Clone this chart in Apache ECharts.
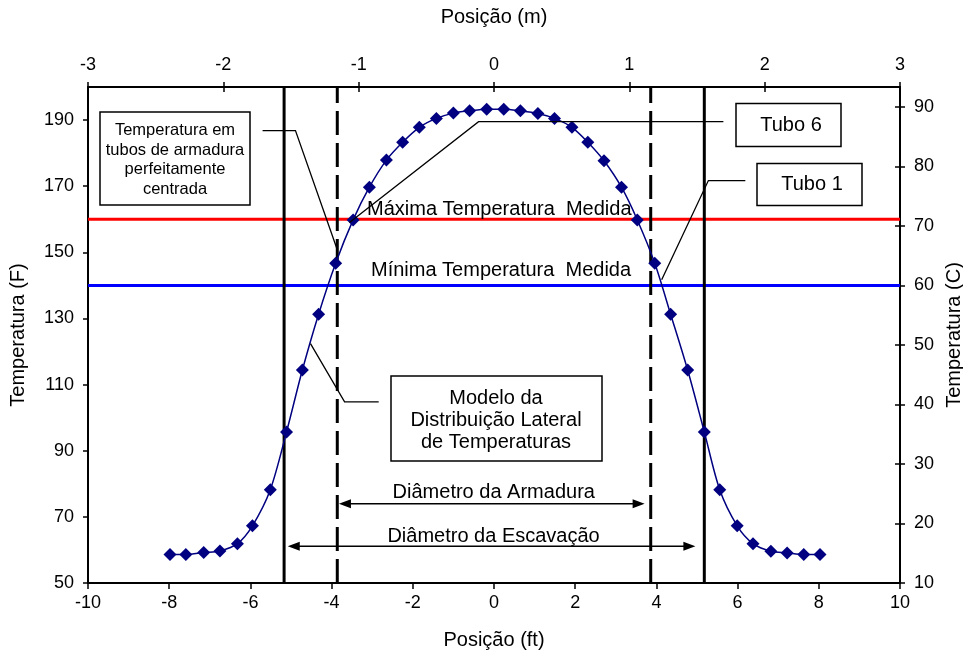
<!DOCTYPE html>
<html>
<head>
<meta charset="utf-8">
<script src="https://cdn.jsdelivr.net/npm/echarts@6/dist/echarts.min.js"></script>
<style>
  html, body { margin: 0; padding: 0; background: #ffffff; }
  #chart { width: 963px; height: 652px; }
</style>
</head>
<body>
<div id="chart"></div>
<script>
// Lateral temperature profile across the shaft (position in ft, temperature in F)
const positionFt = [
  -7.98, -7.59, -7.15, -6.75, -6.32, -5.95, -5.51, -5.11, -4.72, -4.32,
  -3.90, -3.47, -3.07, -2.65, -2.25, -1.84, -1.42, -1.00, -0.60, -0.18,
   0.24,  0.65,  1.08,  1.49,  1.92,  2.31,  2.71,  3.14,  3.53,  3.96,
   4.35,  4.77,  5.18,  5.56,  5.99,  6.38,  6.82,  7.22,  7.63,  8.03
];
const temperatureF = [
   58.6,  58.6,  59.2,  59.7,  61.9,  67.3,  78.2,  95.7, 114.4, 131.3,
  146.7, 159.8, 169.7, 177.9, 183.3, 187.8, 190.5, 192.1, 192.8, 193.3,
  193.3, 192.8, 192.0, 190.5, 187.8, 183.3, 177.7, 169.7, 159.8, 146.7,
  131.3, 114.4,  95.7,  78.2,  67.3,  61.9,  59.6,  59.1,  58.6,  58.6
];

// Measured extremes (F)
const maxMeasuredF = 160;
const minMeasuredF = 140;

// Excavation and reinforcement cage edges (ft)
const excavationEdgesFt = [-5.17, 5.18];
const cageEdgesFt = [-3.86, 3.86];

// Axis ranges and tick labels
const ftRange = [-10, 10];
const metreRange = [-3, 3];
const tempFRange = [50, 200];
const tempFTicks = [50, 70, 90, 110, 130, 150, 170, 190];
const tempCRange = [10, (200 - 32) / 1.8];

const FONT = "'Liberation Sans', Arial, sans-serif";
const BLACK = '#000000';
const NAVY = '#000080';

const chart = echarts.init(document.getElementById('chart'), null, { renderer: 'canvas' });

const labelStyle = { color: BLACK, fontSize: 18, fontFamily: FONT };
const nameStyle = { color: BLACK, fontSize: 20, fontFamily: FONT };
const axisLine = { show: true, onZero: false, lineStyle: { color: BLACK, width: 2 } };
const hiddenLine = { show: false, onZero: false };

function vLine(x, dashed) {
  return {
    type: 'line', xAxisIndex: 0, yAxisIndex: 0, z: 1, silent: true,
    symbol: 'none', animation: false,
    data: [[x, tempFRange[0]], [x, tempFRange[1]]],
    lineStyle: { color: BLACK, width: 3, type: dashed ? [24, 8] : 'solid' }
  };
}
function hLine(y, color) {
  return {
    type: 'line', xAxisIndex: 0, yAxisIndex: 0, z: 1, silent: true,
    symbol: 'none', animation: false,
    data: [[ftRange[0], y], [ftRange[1], y]],
    lineStyle: { color: color, width: 3 }
  };
}

const option = {
  backgroundColor: '#ffffff',
  animation: false,
  grid: { left: 88, top: 87, width: 812, height: 496, containLabel: false, outerBoundsMode: 'none' },
  xAxis: [
    {
      type: 'value', position: 'bottom', min: ftRange[0], max: ftRange[1], interval: 2,
      axisLine: axisLine,
      axisTick: { show: true, length: 6, lineStyle: { color: BLACK, width: 1.5 } },
      axisLabel: Object.assign({ margin: 11 }, labelStyle),
      splitLine: { show: false },
      name: 'Posição (ft)', nameLocation: 'middle', nameGap: 47, nameTextStyle: nameStyle
    },
    {
      type: 'value', position: 'top', min: metreRange[0], max: metreRange[1], interval: 1,
      axisLine: axisLine,
      axisTick: { show: true, length: 5, lineStyle: { color: BLACK, width: 1.5 } },
      axisLabel: Object.assign({ margin: 13 }, labelStyle),
      splitLine: { show: false },
      name: 'Posição (m)', nameLocation: 'middle', nameGap: 60, nameTextStyle: nameStyle
    },
    {
      type: 'value', position: 'top', min: metreRange[0], max: metreRange[1], interval: 1,
      axisLine: hiddenLine,
      axisTick: { show: true, inside: true, length: 5, lineStyle: { color: BLACK, width: 1.5 } },
      axisLabel: { show: false },
      splitLine: { show: false }
    }
  ],
  yAxis: [
    {
      type: 'value', position: 'left', min: tempFRange[0], max: tempFRange[1],
      axisLine: axisLine,
      axisTick: { show: true, length: 5, customValues: tempFTicks, lineStyle: { color: BLACK, width: 1.5 } },
      axisLabel: Object.assign({ margin: 14, customValues: tempFTicks }, labelStyle),
      splitLine: { show: false },
      name: 'Temperatura (F)', nameLocation: 'middle', nameRotate: 90, nameGap: 60, nameTextStyle: nameStyle
    },
    {
      type: 'value', position: 'right', min: tempCRange[0], max: tempCRange[1], interval: 10,
      axisLine: axisLine,
      axisTick: { show: true, length: 5, lineStyle: { color: BLACK, width: 1.5 } },
      axisLabel: Object.assign({ margin: 14, showMaxLabel: false }, labelStyle),
      splitLine: { show: false },
      name: 'Temperatura (C)', nameLocation: 'middle', nameRotate: 90, nameGap: 44, nameTextStyle: nameStyle
    },
    {
      type: 'value', position: 'right', min: tempCRange[0], max: tempCRange[1], interval: 10,
      axisLine: hiddenLine,
      axisTick: { show: true, inside: true, length: 5, lineStyle: { color: BLACK, width: 1.5 } },
      axisLabel: { show: false },
      splitLine: { show: false }
    }
  ],
  series: [
    hLine(maxMeasuredF, '#ff0000'),
    hLine(minMeasuredF, '#0000ff'),
    vLine(excavationEdgesFt[0], false),
    vLine(excavationEdgesFt[1], false),
    vLine(cageEdgesFt[0], true),
    vLine(cageEdgesFt[1], true),
    {
      name: 'Temperatura',
      type: 'line', xAxisIndex: 0, yAxisIndex: 0, z: 5,
      data: positionFt.map((x, i) => [x, temperatureF[i]]),
      smooth: 0.3,
      symbol: 'diamond', symbolSize: 13, showAllSymbol: true,
      itemStyle: { color: NAVY },
      lineStyle: { color: NAVY, width: 1.5 }
    }
  ]
};

chart.setOption(option);

// ---- Annotations: boxes, leader lines and diameter arrows ----
const toPx = (p) => chart.convertToPixel({ xAxisIndex: 0, yAxisIndex: 0 }, p);

// leader lines, given in chart units (ft, F)
const leaders = [
  [[-5.70, 186.8], [-4.89, 186.8], [-3.86, 150.8]],
  [[5.65, 189.5], [-0.38, 189.5], [-3.56, 159.0]],
  [[6.19, 171.7], [5.28, 171.7], [4.13, 141.7]],
  [[-2.84, 104.8], [-3.68, 104.8], [-4.52, 122.4]]
];

// double arrows (y in F, tips in ft)
const arrows = [
  { y: 74.0, from: -3.82, to: 3.71, label: 'Diâmetro da Armadura', labelY: 492 },
  { y: 61.1, from: -5.08, to: 4.96, label: 'Diâmetro da Escavação', labelY: 536 }
];

const graphics = [];

leaders.forEach((pts) => {
  graphics.push({
    type: 'polyline', z: 10, silent: true,
    shape: { points: pts.map(toPx) },
    style: { stroke: BLACK, lineWidth: 1.3, fill: null }
  });
});

arrows.forEach((a) => {
  const p1 = toPx([a.from, a.y]);
  const p2 = toPx([a.to, a.y]);
  const hl = 12, hw = 4.5;
  graphics.push({
    type: 'line', z: 10, silent: true,
    shape: { x1: p1[0] + hl - 1, y1: p1[1], x2: p2[0] - hl + 1, y2: p2[1] },
    style: { stroke: BLACK, lineWidth: 1.5 }
  });
  graphics.push({
    type: 'polygon', z: 10, silent: true,
    shape: { points: [[p1[0], p1[1]], [p1[0] + hl, p1[1] - hw], [p1[0] + hl, p1[1] + hw]] },
    style: { fill: BLACK }
  });
  graphics.push({
    type: 'polygon', z: 10, silent: true,
    shape: { points: [[p2[0], p2[1]], [p2[0] - hl, p2[1] - hw], [p2[0] - hl, p2[1] + hw]] },
    style: { fill: BLACK }
  });
  graphics.push({
    type: 'text', z: 11, silent: true,
    style: {
      text: a.label, x: (p1[0] + p2[0]) / 2 + 2, y: a.labelY,
      align: 'center', verticalAlign: 'middle',
      font: '20px ' + FONT, fill: BLACK
    }
  });
});

// labelled boxes (pixel layout)
const boxes = [
  { x: 100, y: 112, w: 150, h: 93, text: 'Temperatura em\ntubos de armadura\nperfeitamente\ncentrada', size: 16.5, lh: 19.5, tx: 175, ty: 160 },
  { x: 736, y: 103.5, w: 105, h: 43, text: 'Tubo 6', size: 20, lh: 22, tx: 791, ty: 125 },
  { x: 757, y: 163.5, w: 105, h: 42, text: 'Tubo 1', size: 20, lh: 22, tx: 812, ty: 184.5 },
  { x: 391, y: 376, w: 211, h: 85, text: 'Modelo da\nDistribuição Lateral\nde Temperaturas', size: 20, lh: 22, tx: 496, ty: 420 }
];
boxes.forEach((b) => {
  graphics.push({
    type: 'rect', z: 12, silent: true,
    shape: { x: b.x, y: b.y, width: b.w, height: b.h },
    style: { fill: '#ffffff', stroke: BLACK, lineWidth: 1.5 }
  });
  graphics.push({
    type: 'text', z: 13, silent: true,
    style: {
      text: b.text, x: b.tx, y: b.ty, align: 'center', verticalAlign: 'middle',
      font: b.size + 'px ' + FONT, lineHeight: b.lh, fill: BLACK
    }
  });
});

// measured-extreme captions
graphics.push({
  type: 'text', z: 11, silent: true,
  style: { text: 'Máxima Temperatura  Medida', x: 367, y: 209, align: 'left', verticalAlign: 'middle', font: '20px ' + FONT, fill: BLACK }
});
graphics.push({
  type: 'text', z: 11, silent: true,
  style: { text: 'Mínima Temperatura  Medida', x: 371, y: 270, align: 'left', verticalAlign: 'middle', font: '20px ' + FONT, fill: BLACK }
});

chart.setOption({ graphic: graphics });
</script>
</body>
</html>
